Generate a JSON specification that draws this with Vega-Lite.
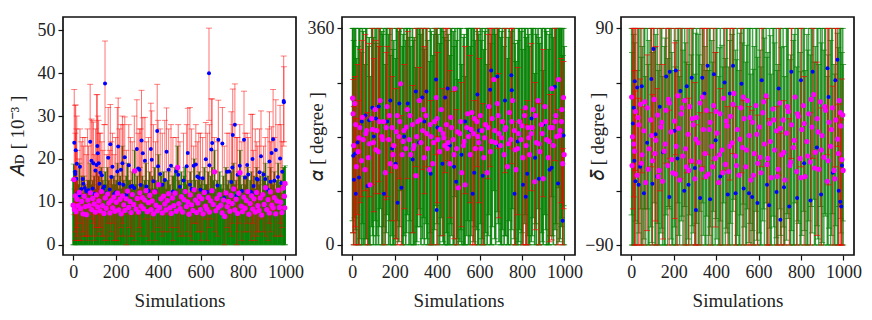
{"$schema":"https://vega.github.io/schema/vega-lite/v6.json","background":"white","padding":{"left":7,"top":16,"right":0,"bottom":0},"bounds":"flush","spacing":46,
"config":{"view":{"stroke":"#111","strokeWidth":1.7,"continuousWidth":233,"continuousHeight":238},"axis":{"grid":false,"domain":false,"format":"d","tickColor":"#111","tickWidth":1.2,"tickSize":5,"labelFont":"Liberation Serif","titleFont":"Liberation Serif","labelFontSize":18,"titleFontSize":19,"titleFontWeight":"normal","labelColor":"#222","titleColor":"#222","labelPadding":3}},
"datasets":{
"a_b":[{"s":5,"v":23.8,"l":7,"h":36.2},{"s":9,"v":17,"l":3,"h":32.5},{"s":10,"v":16.5,"l":1,"h":26},{"s":12,"v":22,"l":8,"h":32.6},{"s":15,"v":15.4,"l":2,"h":27},{"s":17,"v":18.9,"l":4,"h":30},{"s":20,"v":12,"l":1,"h":22},{"s":28,"v":11.5,"l":1,"h":20},{"s":32,"v":18.2,"l":5,"h":27},{"s":45,"v":15.3,"l":3,"h":25},{"s":48,"v":14.2,"l":2,"h":23},{"s":62,"v":12.5,"l":2,"h":21},{"s":72,"v":12.7,"l":2,"h":23},{"s":80,"v":24,"l":7,"h":37.4},{"s":86,"v":19.6,"l":6,"h":29.3},{"s":95,"v":19,"l":5,"h":28.6},{"s":100,"v":11.9,"l":1,"h":21},{"s":105,"v":17.3,"l":4,"h":27},{"s":110,"v":18.6,"l":2,"h":35},{"s":114,"v":23,"l":7,"h":35},{"s":116,"v":21.3,"l":8,"h":30},{"s":120,"v":19,"l":4,"h":29},{"s":128,"v":16.8,"l":4,"h":26},{"s":140,"v":13,"l":2,"h":22},{"s":150,"v":37.6,"l":28,"h":47.5},{"s":158,"v":12,"l":1,"h":21},{"s":165,"v":20.3,"l":5,"h":32},{"s":175,"v":23.4,"l":9,"h":32.7},{"s":185,"v":18.2,"l":5,"h":26},{"s":193,"v":11.8,"l":1,"h":21},{"s":208,"v":17.1,"l":1,"h":32},{"s":212,"v":22.9,"l":8,"h":34.2},{"s":225,"v":17.5,"l":4,"h":28},{"s":232,"v":19,"l":5,"h":30},{"s":243,"v":20.4,"l":7,"h":29.8},{"s":262,"v":18.5,"l":4,"h":28},{"s":278,"v":13.7,"l":2,"h":24},{"s":300,"v":22.3,"l":7,"h":33.8},{"s":312,"v":17.5,"l":4,"h":27},{"s":322,"v":24.3,"l":8,"h":36},{"s":328,"v":21.3,"l":8,"h":29.6},{"s":338,"v":19.6,"l":6,"h":29.7},{"s":366,"v":22.3,"l":7,"h":33},{"s":370,"v":19.8,"l":6,"h":31.2},{"s":396,"v":26.5,"l":12,"h":37.4},{"s":400,"v":18.3,"l":4,"h":29},{"s":410,"v":16.5,"l":3,"h":27},{"s":440,"v":21.7,"l":7,"h":31.9},{"s":450,"v":17.5,"l":3,"h":27},{"s":461,"v":18.4,"l":4,"h":28},{"s":485,"v":17.1,"l":4,"h":25},{"s":503,"v":13.5,"l":2,"h":24},{"s":535,"v":18.3,"l":3,"h":28},{"s":540,"v":21.4,"l":7,"h":31.8},{"s":568,"v":18.4,"l":5,"h":23},{"s":578,"v":18.7,"l":5,"h":28},{"s":592,"v":15.6,"l":3,"h":26},{"s":610,"v":15.5,"l":3,"h":25},{"s":625,"v":19.9,"l":6,"h":28.5},{"s":640,"v":40,"l":29,"h":50.5},{"s":642,"v":18.5,"l":4,"h":28},{"s":651,"v":22.2,"l":6,"h":34},{"s":655,"v":23.7,"l":8,"h":34},{"s":684,"v":24.5,"l":10,"h":33.7},{"s":703,"v":23.6,"l":8,"h":32},{"s":725,"v":17,"l":4,"h":26},{"s":750,"v":18,"l":5,"h":28},{"s":752,"v":25.6,"l":9,"h":36.3},{"s":762,"v":28,"l":13,"h":37.5},{"s":775,"v":16.3,"l":3,"h":25},{"s":785,"v":18.4,"l":5,"h":28},{"s":805,"v":24.5,"l":8,"h":35.8},{"s":810,"v":15.7,"l":3,"h":26},{"s":820,"v":18.6,"l":5,"h":26},{"s":845,"v":20,"l":5,"h":30.4},{"s":850,"v":13.7,"l":2,"h":22},{"s":865,"v":15.4,"l":3,"h":24},{"s":878,"v":16.9,"l":3,"h":27},{"s":885,"v":20.6,"l":6,"h":31.2},{"s":897,"v":16.4,"l":3,"h":23},{"s":925,"v":19.4,"l":5,"h":31},{"s":930,"v":14.7,"l":3,"h":24},{"s":935,"v":21.4,"l":7,"h":27.5},{"s":942,"v":24.6,"l":8,"h":36.2},{"s":955,"v":22.1,"l":7,"h":33.8},{"s":975,"v":20.1,"l":5,"h":32.5},{"s":985,"v":17,"l":4,"h":24},{"s":992,"v":33.5,"l":23,"h":44},{"s":993,"v":33.2,"l":24,"h":41.5},{"s":38,"v":13,"l":1,"h":24},{"s":55,"v":13.2,"l":2,"h":25},{"s":68,"v":12.4,"l":1,"h":27},{"s":92,"v":13.1,"l":2,"h":29},{"s":124,"v":14.2,"l":3,"h":26},{"s":135,"v":16.2,"l":2,"h":24},{"s":146,"v":13.6,"l":1,"h":28},{"s":172,"v":12.9,"l":2,"h":22},{"s":180,"v":15.8,"l":3,"h":24},{"s":200,"v":12.2,"l":1,"h":25},{"s":218,"v":14.3,"l":2,"h":27},{"s":236,"v":14,"l":2,"h":28},{"s":250,"v":11.6,"l":0,"h":22},{"s":270,"v":13.5,"l":2,"h":25},{"s":288,"v":13.2,"l":1,"h":30},{"s":306,"v":17.8,"l":3,"h":26},{"s":318,"v":13.9,"l":2,"h":27},{"s":345,"v":13.6,"l":2,"h":24},{"s":355,"v":12.6,"l":1,"h":25},{"s":378,"v":14.8,"l":3,"h":28},{"s":388,"v":12.5,"l":1,"h":24},{"s":420,"v":14,"l":2,"h":26},{"s":432,"v":15.1,"l":3,"h":29},{"s":470,"v":12.4,"l":1,"h":25},{"s":495,"v":16.3,"l":3,"h":28},{"s":520,"v":15,"l":2,"h":26},{"s":550,"v":14,"l":2,"h":32},{"s":558,"v":13,"l":1,"h":27},{"s":585,"v":15.9,"l":3,"h":24},{"s":600,"v":12.8,"l":1,"h":26},{"s":632,"v":12.3,"l":1,"h":26},{"s":665,"v":16.9,"l":3,"h":25},{"s":680,"v":13.8,"l":2,"h":24},{"s":712,"v":10.9,"l":0,"h":23},{"s":735,"v":17.1,"l":3,"h":26},{"s":745,"v":14.6,"l":2,"h":31},{"s":770,"v":11.4,"l":0,"h":25},{"s":795,"v":12.5,"l":1,"h":24},{"s":825,"v":16.4,"l":3,"h":25},{"s":838,"v":12.3,"l":1,"h":30.4},{"s":858,"v":12.1,"l":1,"h":27},{"s":870,"v":15.2,"l":2,"h":23},{"s":905,"v":15.3,"l":2,"h":25},{"s":918,"v":12.8,"l":1,"h":27},{"s":948,"v":14.9,"l":2,"h":25},{"s":965,"v":15.8,"l":2,"h":28},{"s":980,"v":14.4,"l":2,"h":28}],
"a_m":[{"s":0,"v":9.2,"l":0,"h":15},{"s":3,"v":15.2,"l":0,"h":18.8},{"s":6,"v":8.2,"l":0,"h":13},{"s":10,"v":11.4,"l":0,"h":17},{"s":14,"v":7.7,"l":0,"h":14},{"s":18,"v":10.6,"l":0,"h":15},{"s":24,"v":9.1,"l":0,"h":14},{"s":29,"v":12.2,"l":0,"h":19},{"s":35,"v":8.4,"l":0,"h":13},{"s":40,"v":10.1,"l":0,"h":16},{"s":46,"v":7.2,"l":0,"h":12},{"s":52,"v":11.3,"l":0,"h":16},{"s":57,"v":8.9,"l":0,"h":14},{"s":63,"v":7,"l":0,"h":13},{"s":69,"v":10.4,"l":0,"h":15},{"s":75,"v":9.1,"l":0,"h":15},{"s":81,"v":12.1,"l":0,"h":19},{"s":87,"v":8.2,"l":0,"h":14},{"s":92,"v":10.8,"l":0,"h":15},{"s":99,"v":9.5,"l":0,"h":16},{"s":104,"v":7.6,"l":0,"h":13},{"s":110,"v":11.6,"l":0,"h":17},{"s":115,"v":8.8,"l":0,"h":14},{"s":121,"v":10.2,"l":0,"h":16},{"s":127,"v":7.9,"l":0,"h":12},{"s":133,"v":12.4,"l":0,"h":18},{"s":139,"v":9.1,"l":0,"h":15},{"s":145,"v":7.3,"l":0,"h":13},{"s":151,"v":10.9,"l":0,"h":17},{"s":156,"v":8.5,"l":0,"h":14},{"s":162,"v":11.8,"l":0,"h":18},{"s":168,"v":9.7,"l":0,"h":15},{"s":173,"v":7.4,"l":0,"h":12},{"s":179,"v":10.3,"l":0,"h":16},{"s":186,"v":8.6,"l":0,"h":14},{"s":192,"v":11.1,"l":0,"h":16},{"s":197,"v":7.8,"l":0,"h":14},{"s":203,"v":9.9,"l":0,"h":15},{"s":209,"v":12,"l":0,"h":19},{"s":215,"v":8.1,"l":0,"h":13},{"s":221,"v":10.6,"l":0,"h":16},{"s":226,"v":7.2,"l":0,"h":13},{"s":232,"v":11.4,"l":0,"h":23},{"s":238,"v":9.3,"l":0,"h":15},{"s":244,"v":8,"l":0,"h":14},{"s":250,"v":10.7,"l":0,"h":16},{"s":256,"v":12.5,"l":0,"h":19},{"s":262,"v":8.7,"l":0,"h":15},{"s":268,"v":10.1,"l":0,"h":15},{"s":273,"v":7.5,"l":0,"h":13},{"s":279,"v":11.7,"l":0,"h":17},{"s":285,"v":9.4,"l":0,"h":14},{"s":290,"v":17.2,"l":0,"h":22},{"s":296,"v":8.3,"l":0,"h":14},{"s":302,"v":10.8,"l":0,"h":16},{"s":308,"v":7.6,"l":0,"h":13},{"s":314,"v":12.1,"l":0,"h":18},{"s":320,"v":9,"l":0,"h":14},{"s":326,"v":11,"l":0,"h":16},{"s":331,"v":8.4,"l":0,"h":14},{"s":337,"v":10.4,"l":0,"h":15},{"s":343,"v":12.6,"l":0,"h":19},{"s":349,"v":7.7,"l":0,"h":13},{"s":355,"v":9.8,"l":0,"h":15},{"s":361,"v":11.5,"l":0,"h":17},{"s":367,"v":8.2,"l":0,"h":13},{"s":372,"v":10.2,"l":0,"h":16},{"s":378,"v":7.2,"l":0,"h":13},{"s":384,"v":12.3,"l":0,"h":18},{"s":390,"v":9.2,"l":0,"h":15},{"s":396,"v":7.9,"l":0,"h":13},{"s":402,"v":14,"l":0,"h":21},{"s":408,"v":8.7,"l":0,"h":14},{"s":414,"v":10.7,"l":0,"h":16},{"s":420,"v":7.4,"l":0,"h":14},{"s":426,"v":11.3,"l":0,"h":17},{"s":432,"v":9.5,"l":0,"h":15},{"s":438,"v":8.1,"l":0,"h":13},{"s":444,"v":10.3,"l":0,"h":15},{"s":450,"v":11.9,"l":0,"h":17},{"s":456,"v":8.6,"l":0,"h":14},{"s":462,"v":7.3,"l":0,"h":12},{"s":468,"v":10.9,"l":0,"h":16},{"s":474,"v":9.1,"l":0,"h":16},{"s":480,"v":12,"l":0,"h":18},{"s":486,"v":7.8,"l":0,"h":13},{"s":492,"v":18,"l":0,"h":23},{"s":498,"v":9.6,"l":0,"h":15},{"s":504,"v":8.4,"l":0,"h":14},{"s":510,"v":11.2,"l":0,"h":17},{"s":516,"v":7.6,"l":0,"h":13},{"s":522,"v":10.5,"l":0,"h":16},{"s":528,"v":12.4,"l":0,"h":18},{"s":534,"v":8.9,"l":0,"h":14},{"s":540,"v":10,"l":0,"h":15},{"s":546,"v":7.1,"l":0,"h":12},{"s":552,"v":11.6,"l":0,"h":17},{"s":558,"v":9.3,"l":0,"h":15},{"s":564,"v":8,"l":0,"h":13},{"s":570,"v":12.8,"l":0,"h":20},{"s":576,"v":10.4,"l":0,"h":15},{"s":582,"v":7.5,"l":0,"h":13},{"s":588,"v":9.7,"l":0,"h":15},{"s":594,"v":11.3,"l":0,"h":17},{"s":600,"v":8.2,"l":0,"h":14},{"s":606,"v":10.7,"l":0,"h":15},{"s":612,"v":7.2,"l":0,"h":13},{"s":618,"v":12.2,"l":0,"h":18},{"s":624,"v":9,"l":0,"h":14},{"s":630,"v":8.3,"l":0,"h":14},{"s":636,"v":11,"l":0,"h":17},{"s":642,"v":7.6,"l":0,"h":13},{"s":648,"v":10.2,"l":0,"h":16},{"s":654,"v":12.6,"l":0,"h":18},{"s":660,"v":9.4,"l":0,"h":15},{"s":666,"v":17,"l":0,"h":22},{"s":672,"v":7.9,"l":0,"h":13},{"s":678,"v":10.8,"l":0,"h":15},{"s":684,"v":8.7,"l":0,"h":14},{"s":690,"v":11.7,"l":0,"h":17},{"s":696,"v":9.2,"l":0,"h":14},{"s":702,"v":7.4,"l":0,"h":13},{"s":708,"v":10.4,"l":0,"h":16},{"s":714,"v":6.6,"l":0,"h":12},{"s":720,"v":12.1,"l":0,"h":18},{"s":726,"v":8.9,"l":0,"h":14},{"s":732,"v":10.1,"l":0,"h":15},{"s":738,"v":7.8,"l":0,"h":13},{"s":744,"v":11.5,"l":0,"h":17},{"s":750,"v":9.6,"l":0,"h":15},{"s":756,"v":13,"l":0,"h":19},{"s":762,"v":8.1,"l":0,"h":14},{"s":768,"v":10.6,"l":0,"h":15},{"s":774,"v":7.3,"l":0,"h":13},{"s":780,"v":12,"l":0,"h":17},{"s":786,"v":16.8,"l":0,"h":22},{"s":792,"v":9,"l":0,"h":14},{"s":798,"v":7.7,"l":0,"h":13},{"s":804,"v":11.1,"l":0,"h":16},{"s":810,"v":8.5,"l":0,"h":14},{"s":816,"v":10.3,"l":0,"h":16},{"s":822,"v":12.4,"l":0,"h":18},{"s":828,"v":7.1,"l":0,"h":12},{"s":834,"v":9.6,"l":0,"h":15},{"s":840,"v":11.4,"l":0,"h":17},{"s":846,"v":8.3,"l":0,"h":14},{"s":852,"v":10.7,"l":0,"h":16},{"s":858,"v":7.6,"l":0,"h":13},{"s":864,"v":12.2,"l":0,"h":18},{"s":870,"v":9.1,"l":0,"h":15},{"s":876,"v":8,"l":0,"h":14},{"s":882,"v":10.9,"l":0,"h":16},{"s":888,"v":6.9,"l":0,"h":12},{"s":894,"v":11.7,"l":0,"h":17},{"s":900,"v":9.4,"l":0,"h":15},{"s":906,"v":13.3,"l":0,"h":19},{"s":912,"v":8.2,"l":0,"h":14},{"s":918,"v":10.5,"l":0,"h":16},{"s":924,"v":7.4,"l":0,"h":13},{"s":930,"v":12.3,"l":0,"h":18},{"s":936,"v":9.2,"l":0,"h":15},{"s":942,"v":8.6,"l":0,"h":14},{"s":948,"v":11,"l":0,"h":17},{"s":954,"v":7.2,"l":0,"h":13},{"s":960,"v":10.2,"l":0,"h":15},{"s":966,"v":12.7,"l":0,"h":19},{"s":972,"v":8.7,"l":0,"h":14},{"s":978,"v":9.9,"l":0,"h":15},{"s":984,"v":7.5,"l":0,"h":12},{"s":990,"v":13.2,"l":0,"h":18},{"s":995,"v":11.3,"l":0,"h":18},{"s":998,"v":14.3,"l":0,"h":18.4},{"s":997,"v":8.6,"l":0,"h":14}],
"b_b":[{"s":5,"v":148,"l":20,"h":275},{"s":8,"v":108,"l":0,"h":230},{"s":14,"v":152,"l":30,"h":280},{"s":17,"v":85,"l":0,"h":210},{"s":25,"v":170,"l":50,"h":300},{"s":32,"v":112,"l":0,"h":240},{"s":38,"v":196,"l":70,"h":325},{"s":45,"v":205,"l":80,"h":340},{"s":62,"v":215,"l":90,"h":350},{"s":72,"v":98,"l":0,"h":220},{"s":80,"v":207,"l":80,"h":335},{"s":95,"v":228,"l":100,"h":360},{"s":102,"v":180,"l":55,"h":310},{"s":112,"v":210,"l":85,"h":340},{"s":125,"v":230,"l":105,"h":360},{"s":130,"v":205,"l":85,"h":330},{"s":150,"v":85,"l":0,"h":205},{"s":160,"v":195,"l":75,"h":320},{"s":165,"v":205,"l":80,"h":330},{"s":180,"v":240,"l":120,"h":360},{"s":188,"v":160,"l":40,"h":280},{"s":205,"v":135,"l":10,"h":260},{"s":214,"v":70,"l":0,"h":190},{"s":222,"v":235,"l":110,"h":360},{"s":232,"v":95,"l":0,"h":215},{"s":245,"v":180,"l":60,"h":300},{"s":262,"v":235,"l":110,"h":355},{"s":285,"v":142,"l":20,"h":265},{"s":300,"v":255,"l":130,"h":360},{"s":315,"v":170,"l":50,"h":295},{"s":330,"v":245,"l":125,"h":360},{"s":340,"v":205,"l":85,"h":330},{"s":350,"v":255,"l":130,"h":360},{"s":370,"v":118,"l":0,"h":240},{"s":395,"v":275,"l":150,"h":360},{"s":398,"v":58,"l":0,"h":180},{"s":402,"v":195,"l":70,"h":320},{"s":425,"v":135,"l":15,"h":260},{"s":438,"v":245,"l":120,"h":360},{"s":450,"v":260,"l":140,"h":360},{"s":460,"v":165,"l":45,"h":290},{"s":480,"v":130,"l":10,"h":255},{"s":490,"v":105,"l":0,"h":225},{"s":515,"v":150,"l":30,"h":270},{"s":532,"v":205,"l":85,"h":330},{"s":555,"v":190,"l":70,"h":315},{"s":568,"v":85,"l":0,"h":210},{"s":575,"v":120,"l":0,"h":240},{"s":590,"v":250,"l":130,"h":360},{"s":598,"v":190,"l":70,"h":310},{"s":615,"v":115,"l":0,"h":235},{"s":640,"v":230,"l":110,"h":350},{"s":650,"v":258,"l":130,"h":360},{"s":655,"v":290,"l":170,"h":360},{"s":684,"v":280,"l":160,"h":360},{"s":690,"v":165,"l":45,"h":285},{"s":720,"v":240,"l":120,"h":360},{"s":750,"v":282,"l":160,"h":360},{"s":752,"v":257,"l":135,"h":360},{"s":765,"v":85,"l":0,"h":205},{"s":780,"v":172,"l":50,"h":295},{"s":805,"v":100,"l":0,"h":225},{"s":818,"v":80,"l":0,"h":200},{"s":825,"v":118,"l":0,"h":240},{"s":845,"v":210,"l":90,"h":335},{"s":862,"v":145,"l":25,"h":270},{"s":880,"v":110,"l":0,"h":235},{"s":900,"v":200,"l":80,"h":325},{"s":930,"v":125,"l":5,"h":250},{"s":940,"v":128,"l":8,"h":250},{"s":955,"v":263,"l":140,"h":360},{"s":970,"v":102,"l":0,"h":225},{"s":985,"v":190,"l":70,"h":310},{"s":992,"v":40,"l":0,"h":160},{"s":996,"v":182,"l":60,"h":305}],
"b_m":[{"s":2,"v":244,"l":40,"h":360},{"s":4,"v":218,"l":20,"h":360},{"s":7,"v":165,"l":0,"h":340},{"s":12,"v":235,"l":45,"h":360},{"s":20,"v":130,"l":0,"h":310},{"s":28,"v":155,"l":0,"h":330},{"s":36,"v":195,"l":10,"h":360},{"s":44,"v":140,"l":0,"h":320},{"s":52,"v":175,"l":0,"h":355},{"s":60,"v":125,"l":0,"h":300},{"s":68,"v":190,"l":10,"h":360},{"s":76,"v":145,"l":0,"h":330},{"s":84,"v":100,"l":0,"h":280},{"s":92,"v":210,"l":30,"h":360},{"s":100,"v":170,"l":0,"h":345},{"s":108,"v":225,"l":40,"h":360},{"s":116,"v":190,"l":15,"h":360},{"s":124,"v":155,"l":0,"h":330},{"s":132,"v":240,"l":60,"h":360},{"s":140,"v":180,"l":0,"h":355},{"s":148,"v":205,"l":30,"h":360},{"s":156,"v":120,"l":0,"h":300},{"s":164,"v":230,"l":50,"h":360},{"s":172,"v":175,"l":0,"h":350},{"s":180,"v":135,"l":0,"h":315},{"s":188,"v":195,"l":15,"h":360},{"s":196,"v":165,"l":0,"h":340},{"s":204,"v":130,"l":0,"h":310},{"s":212,"v":215,"l":40,"h":360},{"s":220,"v":180,"l":5,"h":355},{"s":228,"v":268,"l":90,"h":360},{"s":236,"v":150,"l":0,"h":330},{"s":244,"v":190,"l":15,"h":360},{"s":252,"v":160,"l":0,"h":340},{"s":260,"v":225,"l":50,"h":360},{"s":268,"v":175,"l":0,"h":345},{"s":276,"v":150,"l":0,"h":330},{"s":284,"v":200,"l":20,"h":360},{"s":292,"v":165,"l":0,"h":345},{"s":300,"v":115,"l":0,"h":295},{"s":308,"v":205,"l":30,"h":360},{"s":316,"v":240,"l":60,"h":360},{"s":324,"v":170,"l":0,"h":350},{"s":332,"v":190,"l":10,"h":360},{"s":340,"v":145,"l":0,"h":325},{"s":348,"v":215,"l":35,"h":360},{"s":356,"v":160,"l":0,"h":340},{"s":364,"v":125,"l":0,"h":305},{"s":372,"v":180,"l":0,"h":355},{"s":380,"v":135,"l":0,"h":315},{"s":388,"v":205,"l":25,"h":360},{"s":396,"v":245,"l":65,"h":360},{"s":404,"v":175,"l":0,"h":350},{"s":412,"v":155,"l":0,"h":335},{"s":420,"v":225,"l":45,"h":360},{"s":428,"v":185,"l":5,"h":360},{"s":436,"v":165,"l":0,"h":345},{"s":444,"v":200,"l":20,"h":360},{"s":452,"v":170,"l":0,"h":350},{"s":460,"v":135,"l":0,"h":315},{"s":468,"v":195,"l":15,"h":360},{"s":476,"v":175,"l":0,"h":355},{"s":484,"v":260,"l":80,"h":360},{"s":492,"v":160,"l":0,"h":340},{"s":500,"v":95,"l":0,"h":275},{"s":508,"v":185,"l":5,"h":360},{"s":516,"v":120,"l":0,"h":300},{"s":524,"v":165,"l":0,"h":345},{"s":532,"v":100,"l":0,"h":280},{"s":540,"v":195,"l":15,"h":360},{"s":548,"v":180,"l":0,"h":360},{"s":556,"v":150,"l":0,"h":330},{"s":564,"v":220,"l":40,"h":360},{"s":572,"v":185,"l":5,"h":360},{"s":580,"v":160,"l":0,"h":340},{"s":588,"v":205,"l":25,"h":360},{"s":596,"v":170,"l":0,"h":350},{"s":604,"v":215,"l":35,"h":360},{"s":612,"v":190,"l":10,"h":360},{"s":620,"v":145,"l":0,"h":325},{"s":628,"v":200,"l":20,"h":360},{"s":636,"v":120,"l":0,"h":300},{"s":644,"v":230,"l":50,"h":360},{"s":652,"v":155,"l":0,"h":335},{"s":660,"v":210,"l":30,"h":360},{"s":668,"v":275,"l":90,"h":360},{"s":676,"v":170,"l":0,"h":350},{"s":684,"v":235,"l":55,"h":360},{"s":692,"v":185,"l":5,"h":360},{"s":700,"v":165,"l":0,"h":345},{"s":708,"v":205,"l":25,"h":360},{"s":716,"v":150,"l":0,"h":330},{"s":724,"v":195,"l":15,"h":360},{"s":732,"v":130,"l":0,"h":310},{"s":740,"v":220,"l":40,"h":360},{"s":748,"v":175,"l":0,"h":355},{"s":756,"v":240,"l":60,"h":360},{"s":764,"v":190,"l":10,"h":360},{"s":772,"v":125,"l":0,"h":305},{"s":780,"v":160,"l":0,"h":340},{"s":788,"v":205,"l":25,"h":360},{"s":796,"v":175,"l":0,"h":355},{"s":804,"v":145,"l":0,"h":325},{"s":812,"v":215,"l":35,"h":360},{"s":820,"v":165,"l":0,"h":345},{"s":828,"v":195,"l":15,"h":360},{"s":836,"v":150,"l":0,"h":330},{"s":844,"v":185,"l":5,"h":360},{"s":852,"v":225,"l":45,"h":360},{"s":860,"v":105,"l":0,"h":285},{"s":868,"v":170,"l":0,"h":350},{"s":876,"v":240,"l":60,"h":360},{"s":884,"v":155,"l":0,"h":335},{"s":892,"v":200,"l":20,"h":360},{"s":900,"v":110,"l":0,"h":290},{"s":908,"v":230,"l":50,"h":360},{"s":916,"v":175,"l":0,"h":355},{"s":924,"v":145,"l":0,"h":325},{"s":932,"v":195,"l":15,"h":360},{"s":940,"v":260,"l":80,"h":360},{"s":948,"v":165,"l":0,"h":345},{"s":956,"v":205,"l":25,"h":360},{"s":964,"v":180,"l":0,"h":360},{"s":972,"v":275,"l":95,"h":360},{"s":980,"v":190,"l":10,"h":360},{"s":988,"v":225,"l":45,"h":360},{"s":992,"v":135,"l":0,"h":315},{"s":996,"v":245,"l":65,"h":360},{"s":999,"v":150,"l":0,"h":330},{"s":16,"v":200,"l":25,"h":360},{"s":32,"v":178,"l":0,"h":360},{"s":48,"v":212,"l":35,"h":360},{"s":64,"v":185,"l":10,"h":360},{"s":80,"v":168,"l":0,"h":345},{"s":96,"v":192,"l":15,"h":360},{"s":112,"v":158,"l":0,"h":335},{"s":128,"v":205,"l":30,"h":360},{"s":144,"v":175,"l":0,"h":350},{"s":160,"v":195,"l":20,"h":360},{"s":176,"v":215,"l":40,"h":360},{"s":192,"v":150,"l":0,"h":325},{"s":208,"v":188,"l":10,"h":360},{"s":224,"v":205,"l":30,"h":360},{"s":240,"v":172,"l":0,"h":350},{"s":256,"v":196,"l":20,"h":360},{"s":272,"v":215,"l":40,"h":360},{"s":288,"v":160,"l":0,"h":340},{"s":304,"v":180,"l":5,"h":360},{"s":320,"v":208,"l":30,"h":360},{"s":336,"v":225,"l":45,"h":360},{"s":352,"v":185,"l":10,"h":360},{"s":368,"v":200,"l":20,"h":360},{"s":384,"v":170,"l":0,"h":350},{"s":400,"v":210,"l":35,"h":360},{"s":416,"v":192,"l":15,"h":360},{"s":432,"v":178,"l":0,"h":355},{"s":448,"v":160,"l":0,"h":340},{"s":464,"v":212,"l":35,"h":360},{"s":480,"v":150,"l":0,"h":330},{"s":496,"v":188,"l":10,"h":360},{"s":512,"v":205,"l":25,"h":360},{"s":528,"v":172,"l":0,"h":350},{"s":544,"v":218,"l":40,"h":360},{"s":560,"v":192,"l":15,"h":360},{"s":576,"v":210,"l":30,"h":360},{"s":592,"v":180,"l":0,"h":355},{"s":608,"v":160,"l":0,"h":340},{"s":624,"v":178,"l":0,"h":355},{"s":640,"v":195,"l":15,"h":360},{"s":656,"v":172,"l":0,"h":350},{"s":672,"v":190,"l":10,"h":360},{"s":688,"v":215,"l":35,"h":360},{"s":704,"v":178,"l":0,"h":355},{"s":720,"v":192,"l":15,"h":360},{"s":736,"v":168,"l":0,"h":345},{"s":752,"v":205,"l":25,"h":360},{"s":768,"v":158,"l":0,"h":335},{"s":784,"v":185,"l":5,"h":360},{"s":800,"v":198,"l":20,"h":360},{"s":816,"v":228,"l":50,"h":360},{"s":832,"v":178,"l":0,"h":350},{"s":848,"v":195,"l":15,"h":360},{"s":864,"v":215,"l":35,"h":360},{"s":880,"v":168,"l":0,"h":345},{"s":896,"v":185,"l":5,"h":360},{"s":912,"v":205,"l":25,"h":360},{"s":928,"v":172,"l":0,"h":350},{"s":944,"v":195,"l":15,"h":360},{"s":960,"v":215,"l":35,"h":360},{"s":976,"v":182,"l":5,"h":360},{"s":986,"v":205,"l":30,"h":360}],
"c_b":[{"s":8,"v":11,"l":-60,"h":90},{"s":12,"v":24,"l":-50,"h":90},{"s":15,"v":-20,"l":-90,"h":55},{"s":17,"v":46,"l":-28,"h":90},{"s":20,"v":-37,"l":-90,"h":38},{"s":28,"v":41,"l":-32,"h":90},{"s":35,"v":-40,"l":-90,"h":32},{"s":42,"v":-25,"l":-90,"h":48},{"s":50,"v":42,"l":-30,"h":90},{"s":60,"v":-47,"l":-90,"h":25},{"s":75,"v":-5,"l":-78,"h":68},{"s":95,"v":48,"l":-25,"h":90},{"s":100,"v":-39,"l":-90,"h":35},{"s":105,"v":73,"l":0,"h":90},{"s":115,"v":2,"l":-70,"h":75},{"s":122,"v":-33,"l":-90,"h":40},{"s":135,"v":25,"l":-45,"h":90},{"s":150,"v":-13,"l":-85,"h":60},{"s":165,"v":50,"l":-22,"h":90},{"s":180,"v":-50,"l":-90,"h":22},{"s":182,"v":54,"l":-18,"h":90},{"s":205,"v":5,"l":-68,"h":78},{"s":210,"v":55,"l":-15,"h":90},{"s":218,"v":-18,"l":-90,"h":55},{"s":232,"v":38,"l":-35,"h":90},{"s":250,"v":-45,"l":-90,"h":30},{"s":262,"v":42,"l":-30,"h":90},{"s":270,"v":-40,"l":-90,"h":32},{"s":285,"v":49,"l":-22,"h":90},{"s":300,"v":-26,"l":-90,"h":45},{"s":305,"v":-61,"l":-90,"h":10},{"s":325,"v":-51,"l":-90,"h":20},{"s":335,"v":49,"l":-25,"h":90},{"s":345,"v":36,"l":-35,"h":90},{"s":360,"v":59,"l":-15,"h":90},{"s":372,"v":-52,"l":-90,"h":20},{"s":390,"v":52,"l":-20,"h":90},{"s":398,"v":-3,"l":-75,"h":70},{"s":420,"v":-33,"l":-90,"h":40},{"s":440,"v":45,"l":-28,"h":90},{"s":455,"v":-48,"l":-90,"h":25},{"s":465,"v":36,"l":-36,"h":90},{"s":480,"v":59,"l":-14,"h":90},{"s":492,"v":-47,"l":-90,"h":25},{"s":520,"v":44,"l":-30,"h":90},{"s":530,"v":-43,"l":-90,"h":30},{"s":555,"v":-47,"l":-90,"h":25},{"s":570,"v":-50,"l":-90,"h":22},{"s":595,"v":-55,"l":-90,"h":18},{"s":615,"v":47,"l":-25,"h":90},{"s":640,"v":-40,"l":-90,"h":32},{"s":650,"v":-57,"l":-90,"h":15},{"s":685,"v":-46,"l":-90,"h":25},{"s":695,"v":40,"l":-32,"h":90},{"s":703,"v":-69,"l":-90,"h":3},{"s":720,"v":-42,"l":-90,"h":30},{"s":745,"v":-58,"l":-90,"h":15},{"s":755,"v":54,"l":-18,"h":90},{"s":782,"v":-51,"l":-90,"h":20},{"s":800,"v":47,"l":-25,"h":90},{"s":815,"v":-22,"l":-90,"h":50},{"s":845,"v":-53,"l":-90,"h":20},{"s":855,"v":54,"l":-18,"h":90},{"s":875,"v":-9,"l":-82,"h":62},{"s":895,"v":-48,"l":-90,"h":24},{"s":925,"v":57,"l":-15,"h":90},{"s":930,"v":33,"l":-40,"h":90},{"s":950,"v":-30,"l":-90,"h":42},{"s":962,"v":47,"l":-25,"h":90},{"s":972,"v":64,"l":-8,"h":90},{"s":978,"v":-45,"l":-90,"h":27},{"s":985,"v":-54,"l":-90,"h":18},{"s":990,"v":-58,"l":-90,"h":14},{"s":993,"v":-24,"l":-90,"h":48}],
"c_m":[{"s":2,"v":33,"l":-65,"h":90},{"s":4,"v":-24,"l":-90,"h":70},{"s":6,"v":0,"l":-90,"h":90},{"s":12,"v":-6,"l":-90,"h":85},{"s":20,"v":21,"l":-70,"h":90},{"s":28,"v":-32,"l":-90,"h":55},{"s":36,"v":10,"l":-80,"h":90},{"s":44,"v":27,"l":-60,"h":90},{"s":52,"v":-15,"l":-90,"h":75},{"s":60,"v":5,"l":-85,"h":90},{"s":68,"v":-38,"l":-90,"h":50},{"s":76,"v":24,"l":-60,"h":90},{"s":84,"v":-10,"l":-90,"h":80},{"s":92,"v":14,"l":-75,"h":90},{"s":100,"v":-20,"l":-90,"h":70},{"s":108,"v":31,"l":-55,"h":90},{"s":116,"v":-3,"l":-90,"h":85},{"s":124,"v":18,"l":-72,"h":90},{"s":132,"v":-28,"l":-90,"h":60},{"s":140,"v":8,"l":-80,"h":90},{"s":148,"v":-37,"l":-90,"h":50},{"s":156,"v":-12,"l":-90,"h":75},{"s":164,"v":22,"l":-65,"h":90},{"s":172,"v":-24,"l":-90,"h":65},{"s":180,"v":28,"l":-60,"h":90},{"s":188,"v":4,"l":-85,"h":90},{"s":196,"v":-30,"l":-90,"h":55},{"s":204,"v":13,"l":-75,"h":90},{"s":212,"v":-8,"l":-90,"h":80},{"s":220,"v":34,"l":-55,"h":90},{"s":228,"v":-36,"l":-90,"h":50},{"s":236,"v":19,"l":-70,"h":90},{"s":244,"v":-16,"l":-90,"h":72},{"s":252,"v":30,"l":-58,"h":90},{"s":260,"v":-25,"l":-90,"h":62},{"s":268,"v":2,"l":-85,"h":90},{"s":276,"v":25,"l":-65,"h":90},{"s":284,"v":-20,"l":-90,"h":68},{"s":292,"v":10,"l":-80,"h":90},{"s":300,"v":-35,"l":-90,"h":52},{"s":308,"v":16,"l":-72,"h":90},{"s":316,"v":-5,"l":-90,"h":85},{"s":324,"v":28,"l":-62,"h":90},{"s":332,"v":-27,"l":-90,"h":60},{"s":340,"v":6,"l":-82,"h":90},{"s":348,"v":-14,"l":-90,"h":75},{"s":356,"v":22,"l":-66,"h":90},{"s":364,"v":-31,"l":-90,"h":55},{"s":372,"v":12,"l":-75,"h":90},{"s":380,"v":-8,"l":-90,"h":80},{"s":388,"v":26,"l":-62,"h":90},{"s":396,"v":-18,"l":-90,"h":70},{"s":404,"v":3,"l":-85,"h":90},{"s":412,"v":-38,"l":-90,"h":50},{"s":420,"v":19,"l":-70,"h":90},{"s":428,"v":-11,"l":-90,"h":76},{"s":436,"v":32,"l":-55,"h":90},{"s":444,"v":-23,"l":-90,"h":65},{"s":452,"v":9,"l":-80,"h":90},{"s":460,"v":-29,"l":-90,"h":58},{"s":468,"v":17,"l":-72,"h":90},{"s":476,"v":-5,"l":-90,"h":85},{"s":484,"v":36,"l":-52,"h":90},{"s":492,"v":-16,"l":-90,"h":72},{"s":500,"v":6,"l":-82,"h":90},{"s":508,"v":-32,"l":-90,"h":55},{"s":516,"v":24,"l":-65,"h":90},{"s":524,"v":-9,"l":-90,"h":78},{"s":532,"v":15,"l":-75,"h":90},{"s":540,"v":-25,"l":-90,"h":62},{"s":548,"v":30,"l":-60,"h":90},{"s":556,"v":1,"l":-88,"h":90},{"s":564,"v":-36,"l":-90,"h":52},{"s":572,"v":12,"l":-78,"h":90},{"s":580,"v":-14,"l":-90,"h":75},{"s":588,"v":26,"l":-62,"h":90},{"s":596,"v":-22,"l":-90,"h":66},{"s":604,"v":8,"l":-80,"h":90},{"s":612,"v":-30,"l":-90,"h":58},{"s":620,"v":20,"l":-70,"h":90},{"s":628,"v":-6,"l":-90,"h":82},{"s":636,"v":34,"l":-55,"h":90},{"s":644,"v":-18,"l":-90,"h":70},{"s":652,"v":11,"l":-76,"h":90},{"s":660,"v":-34,"l":-90,"h":52},{"s":668,"v":23,"l":-66,"h":90},{"s":676,"v":-11,"l":-90,"h":78},{"s":684,"v":5,"l":-84,"h":90},{"s":692,"v":-27,"l":-90,"h":60},{"s":700,"v":28,"l":-60,"h":90},{"s":708,"v":-15,"l":-90,"h":74},{"s":716,"v":14,"l":-75,"h":90},{"s":724,"v":-36,"l":-90,"h":50},{"s":732,"v":3,"l":-86,"h":90},{"s":740,"v":21,"l":-68,"h":90},{"s":748,"v":-24,"l":-90,"h":64},{"s":756,"v":10,"l":-78,"h":90},{"s":764,"v":-9,"l":-90,"h":80},{"s":772,"v":33,"l":-55,"h":90},{"s":780,"v":-29,"l":-90,"h":58},{"s":788,"v":17,"l":-72,"h":90},{"s":796,"v":-18,"l":-90,"h":70},{"s":804,"v":6,"l":-82,"h":90},{"s":812,"v":26,"l":-62,"h":90},{"s":820,"v":-33,"l":-90,"h":55},{"s":828,"v":-4,"l":-90,"h":85},{"s":836,"v":19,"l":-70,"h":90},{"s":844,"v":-21,"l":-90,"h":68},{"s":852,"v":8,"l":-80,"h":90},{"s":860,"v":35,"l":-52,"h":90},{"s":868,"v":-13,"l":-90,"h":75},{"s":876,"v":15,"l":-74,"h":90},{"s":884,"v":-27,"l":-90,"h":60},{"s":892,"v":29,"l":-58,"h":90},{"s":900,"v":1,"l":-88,"h":90},{"s":908,"v":-17,"l":-90,"h":72},{"s":916,"v":22,"l":-66,"h":90},{"s":924,"v":-37,"l":-90,"h":50},{"s":932,"v":12,"l":-76,"h":90},{"s":940,"v":-8,"l":-90,"h":80},{"s":948,"v":24,"l":-64,"h":90},{"s":956,"v":-28,"l":-90,"h":60},{"s":964,"v":14,"l":-74,"h":90},{"s":972,"v":-2,"l":-90,"h":86},{"s":980,"v":30,"l":-58,"h":90},{"s":988,"v":9,"l":-80,"h":90},{"s":993,"v":-19,"l":-90,"h":70},{"s":997,"v":18,"l":-70,"h":90},{"s":999,"v":-28,"l":-90,"h":60},{"s":16,"v":-12,"l":-90,"h":78},{"s":32,"v":16,"l":-72,"h":90},{"s":48,"v":-22,"l":-90,"h":66},{"s":64,"v":29,"l":-60,"h":90},{"s":80,"v":-27,"l":-90,"h":60},{"s":96,"v":1,"l":-88,"h":90},{"s":112,"v":-14,"l":-90,"h":74},{"s":128,"v":-33,"l":-90,"h":55},{"s":144,"v":12,"l":-76,"h":90},{"s":160,"v":-6,"l":-90,"h":82},{"s":176,"v":31,"l":-58,"h":90},{"s":192,"v":-19,"l":-90,"h":70},{"s":208,"v":-31,"l":-90,"h":58},{"s":224,"v":7,"l":-82,"h":90},{"s":240,"v":24,"l":-66,"h":90},{"s":256,"v":-10,"l":-90,"h":78},{"s":272,"v":-28,"l":-90,"h":60},{"s":288,"v":15,"l":-74,"h":90},{"s":304,"v":-2,"l":-90,"h":86},{"s":320,"v":-21,"l":-90,"h":68},{"s":336,"v":33,"l":-55,"h":90},{"s":352,"v":-33,"l":-90,"h":55},{"s":368,"v":6,"l":-82,"h":90},{"s":384,"v":-25,"l":-90,"h":62},{"s":400,"v":21,"l":-68,"h":90},{"s":416,"v":-15,"l":-90,"h":74},{"s":432,"v":-30,"l":-90,"h":58},{"s":448,"v":13,"l":-76,"h":90},{"s":464,"v":-8,"l":-90,"h":80},{"s":480,"v":27,"l":-62,"h":90},{"s":496,"v":-24,"l":-90,"h":64},{"s":512,"v":-2,"l":-90,"h":86},{"s":528,"v":33,"l":-56,"h":90},{"s":544,"v":-11,"l":-90,"h":76},{"s":560,"v":16,"l":-72,"h":90},{"s":576,"v":-32,"l":-90,"h":56},{"s":592,"v":2,"l":-86,"h":90},{"s":608,"v":-17,"l":-90,"h":72},{"s":624,"v":29,"l":-60,"h":90},{"s":640,"v":-23,"l":-90,"h":66},{"s":656,"v":-4,"l":-90,"h":84},{"s":672,"v":14,"l":-75,"h":90},{"s":688,"v":-33,"l":-90,"h":55},{"s":704,"v":7,"l":-82,"h":90},{"s":720,"v":-13,"l":-90,"h":75},{"s":736,"v":25,"l":-64,"h":90},{"s":752,"v":-21,"l":-90,"h":68},{"s":768,"v":-3,"l":-90,"h":85},{"s":784,"v":19,"l":-70,"h":90},{"s":800,"v":-34,"l":-90,"h":54},{"s":816,"v":11,"l":-78,"h":90},{"s":832,"v":-16,"l":-90,"h":72},{"s":848,"v":31,"l":-58,"h":90},{"s":864,"v":-26,"l":-90,"h":62},{"s":880,"v":4,"l":-85,"h":90},{"s":896,"v":-11,"l":-90,"h":78},{"s":912,"v":25,"l":-64,"h":90},{"s":928,"v":-20,"l":-90,"h":68},{"s":944,"v":6,"l":-82,"h":90},{"s":960,"v":-35,"l":-90,"h":52},{"s":976,"v":-14,"l":-90,"h":74},{"s":986,"v":20,"l":-68,"h":90}]
},
"hconcat":[
{"width":233,"height":238,"layer":[
{"data":{"name":"a_m"},"mark":{"type":"errorbar","orient":"vertical","rule":{"color":"#008000","opacity":0.95,"strokeWidth":1.8},"ticks":{"color":"#3a9a3a","opacity":0.6,"size":6}},"encoding":{"x":{"field":"s","type":"quantitative","title":"Simulations","scale":{"domain":[-48,1050],"nice":false},"axis":{"values":[0,200,400,600,800,1000],"titlePadding":10}},"y":{"field":"l","type":"quantitative","title":"𝐴ᴅ [ 10⁻³ ]","scale":{"domain":[-2.4,53.1],"nice":false,"zero":false},"axis":{"values":[0,10,20,30,40,50],"titleX":-36}},"y2":{"field":"h"}}},
{"data":{"name":"a_b"},"mark":{"type":"errorbar","orient":"vertical","rule":{"color":"#ff0000","opacity":0.55,"strokeWidth":1},"ticks":{"color":"#ff0000","opacity":0.5,"size":6}},"encoding":{"x":{"field":"s","type":"quantitative","title":"Simulations"},"y":{"field":"l","type":"quantitative","title":"𝐴ᴅ [ 10⁻³ ]"},"y2":{"field":"h"}}},
{"data":{"name":"a_b"},"mark":{"type":"circle","color":"#0000ff","size":16,"opacity":1},"encoding":{"x":{"field":"s","type":"quantitative","title":"Simulations"},"y":{"field":"v","type":"quantitative","title":"𝐴ᴅ [ 10⁻³ ]"}}},
{"data":{"name":"a_m"},"mark":{"type":"circle","color":"#ff00ff","size":28,"opacity":1},"encoding":{"x":{"field":"s","type":"quantitative","title":"Simulations"},"y":{"field":"v","type":"quantitative","title":"𝐴ᴅ [ 10⁻³ ]"}}}
]},
{"width":233,"height":238,"layer":[
{"data":{"name":"b_m"},"mark":{"type":"errorbar","orient":"vertical","rule":{"color":"#008000","opacity":0.85,"strokeWidth":1.7},"ticks":{"color":"#008000","opacity":0.8,"size":6}},"encoding":{"x":{"field":"s","type":"quantitative","title":"Simulations","scale":{"domain":[-48,1050],"nice":false},"axis":{"values":[0,200,400,600,800,1000],"titlePadding":10}},"y":{"field":"l","type":"quantitative","title":"𝛼 [ degree ]","scale":{"domain":[-17,379],"nice":false,"zero":false},"axis":{"values":[0,90,180,270,360],"labelExpr":"datum.value==0||datum.value==360?datum.label:''","titleX":-16}},"y2":{"field":"h"}}},
{"data":{"name":"b_b"},"mark":{"type":"errorbar","orient":"vertical","rule":{"color":"#ff0000","opacity":0.7,"strokeWidth":1.2},"ticks":{"color":"#ff0000","opacity":0.7,"size":6}},"encoding":{"x":{"field":"s","type":"quantitative","title":"Simulations"},"y":{"field":"l","type":"quantitative","title":"𝛼 [ degree ]"},"y2":{"field":"h"}}},
{"data":{"name":"b_b"},"mark":{"type":"circle","color":"#0000ff","size":16,"opacity":1},"encoding":{"x":{"field":"s","type":"quantitative","title":"Simulations"},"y":{"field":"v","type":"quantitative","title":"𝛼 [ degree ]"}}},
{"data":{"name":"b_m"},"mark":{"type":"circle","color":"#ff00ff","size":26,"opacity":1},"encoding":{"x":{"field":"s","type":"quantitative","title":"Simulations"},"y":{"field":"v","type":"quantitative","title":"𝛼 [ degree ]"}}}
]},
{"width":233,"height":238,"layer":[
{"data":{"name":"c_m"},"mark":{"type":"errorbar","orient":"vertical","rule":{"color":"#008000","opacity":0.72,"strokeWidth":1.5},"ticks":{"color":"#008000","opacity":0.7,"size":6}},"encoding":{"x":{"field":"s","type":"quantitative","title":"Simulations","scale":{"domain":[-48,1050],"nice":false},"axis":{"values":[0,200,400,600,800,1000],"titlePadding":10}},"y":{"field":"l","type":"quantitative","title":"𝛿 [ degree ]","scale":{"domain":[-98.3,99.5],"nice":false,"zero":false},"axis":{"values":[-90,-45,0,45,90],"labelExpr":"datum.value==90?'90':datum.value==-90?'−90':''","titleX":-14}},"y2":{"field":"h"}}},
{"data":{"name":"c_b"},"mark":{"type":"errorbar","orient":"vertical","rule":{"color":"#ff0000","opacity":0.65,"strokeWidth":1.1},"ticks":{"color":"#ff0000","opacity":0.7,"size":6}},"encoding":{"x":{"field":"s","type":"quantitative","title":"Simulations"},"y":{"field":"l","type":"quantitative","title":"𝛿 [ degree ]"},"y2":{"field":"h"}}},
{"data":{"name":"c_b"},"mark":{"type":"circle","color":"#0000ff","size":16,"opacity":1},"encoding":{"x":{"field":"s","type":"quantitative","title":"Simulations"},"y":{"field":"v","type":"quantitative","title":"𝛿 [ degree ]"}}},
{"data":{"name":"c_m"},"mark":{"type":"circle","color":"#ff00ff","size":26,"opacity":1},"encoding":{"x":{"field":"s","type":"quantitative","title":"Simulations"},"y":{"field":"v","type":"quantitative","title":"𝛿 [ degree ]"}}}
]}
]}
